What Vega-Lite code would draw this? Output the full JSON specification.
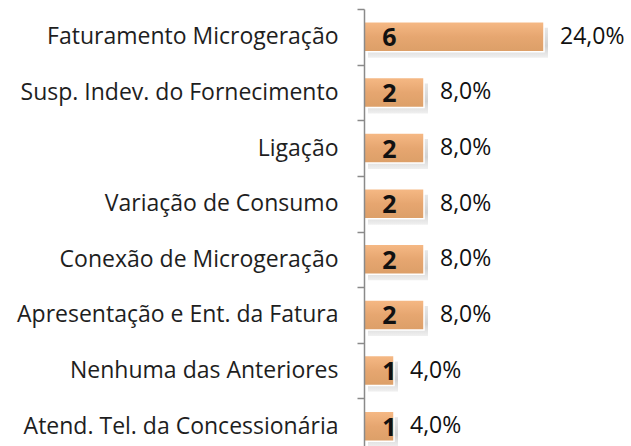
{
  "$schema": "https://vega.github.io/schema/vega-lite/v6.json",
  "autosize": "none",
  "width": 240,
  "height": 445,
  "padding": {"left": 364, "top": 9, "right": 27, "bottom": 0},
  "background": "white",
  "config": {"view": {"stroke": null}, "font": "Open Sans"},
  "data": {"values": [
    {"cat": "Faturamento Microgeração", "n": 6, "pct": "24,0%"},
    {"cat": "Susp. Indev. do Fornecimento", "n": 2, "pct": "8,0%"},
    {"cat": "Ligação", "n": 2, "pct": "8,0%"},
    {"cat": "Variação de Consumo", "n": 2, "pct": "8,0%"},
    {"cat": "Conexão de Microgeração", "n": 2, "pct": "8,0%"},
    {"cat": "Apresentação e Ent. da Fatura", "n": 2, "pct": "8,0%"},
    {"cat": "Nenhuma das Anteriores", "n": 1, "pct": "4,0%"},
    {"cat": "Atend. Tel. da Concessionária", "n": 1, "pct": "4,0%"}
  ]},
  "encoding": {
    "y": {"field": "cat", "type": "nominal", "sort": null,
      "scale": {"paddingInner": 0.46, "paddingOuter": 0.23},
      "axis": {"title": null, "domain": true, "ticks": true, "domainColor": "#8a8a8a", "domainWidth": 1.5, "tickColor": "#8a8a8a", "tickWidth": 1.5, "tickSize": 7,
        "tickOffset": -27.8, "labelOffset": 27.8, "labelPadding": 19, "labelFontSize": 23,
        "labelColor": "#1e1e1e", "labelFont": "Open Sans", "labelLimit": 400, "zindex": 1}},
    "x": {"field": "n", "type": "quantitative", "scale": {"domain": [0, 8]}, "axis": null}
  },
  "layer": [
    {"mark": {"type": "bar", "xOffset": 4, "x2Offset": 4, "yOffset": 6, "y2Offset": 6,
      "color": {"gradient": "linear", "x1": 0, "y1": 0, "x2": 0, "y2": 1,
        "stops": [{"offset": 0, "color": "#e8e8e8"}, {"offset": 0.6, "color": "#d2d2d2"}, {"offset": 1, "color": "#f0f0f0"}]}}},
    {"mark": {"type": "bar", "stroke": "white", "strokeWidth": 1.5,
      "color": {"gradient": "linear", "x1": 0, "y1": 0, "x2": 0, "y2": 1,
        "stops": [{"offset": 0, "color": "#f6b985"}, {"offset": 0.5, "color": "#e6a670"}, {"offset": 1, "color": "#dc9f68"}]}}},
    {"mark": {"type": "text", "align": "center", "baseline": "middle", "dx": 25.5, "dy": 1.5, "fontSize": 25, "fontWeight": "bold", "color": "#111", "font": "Open Sans"},
      "encoding": {"x": {"datum": 0, "type": "quantitative"}, "text": {"field": "n"}}},
    {"mark": {"type": "text", "align": "left", "baseline": "middle", "dx": 16, "dy": 0, "fontSize": 23, "color": "#111", "font": "Open Sans"},
      "encoding": {"text": {"field": "pct"}}}
  ]
}
